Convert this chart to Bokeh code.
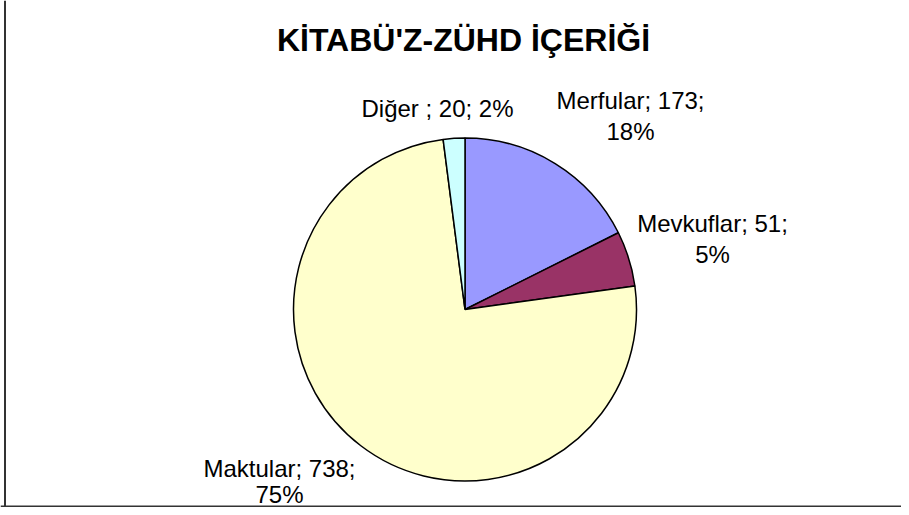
import math
from bokeh.plotting import figure
from bokeh.models import Range1d, Span, ColumnDataSource
from bokeh.core.properties import value
from bokeh.embed import file_html
from bokeh.resources import INLINE

# ---- data ----
title_text = "KİTABÜ'Z-ZÜHD İÇERİĞİ"
categories = ["Merfular", "Mevkuflar", "Maktular", "Diğer "]
values = [173, 51, 738, 20]
colors = ["#9999FF", "#993366", "#FFFFCC", "#CCFFFF"]

# ---- layout (picture pixel coordinates) ----
W, H = 901, 507
def sy(y):  # picture y -> data y
    return H - y

cx, cy, r = 464.5, 309, 171.5
# label anchor positions (x center, line 1 y, line 2 y)
label_pos = [(630, 100, 131), (712, 223, 254), (279, 468, 494), (437, 108, None)]

p = figure(width=W, height=H, output_backend="svg", toolbar_location=None,
           x_range=Range1d(0, W), y_range=Range1d(0, H),
           min_border=0, min_border_left=0, min_border_right=0,
           min_border_top=0, min_border_bottom=0)
p.axis.visible = False
p.grid.visible = False
p.outline_line_color = None
p.background_fill_color = "white"
p.border_fill_color = "white"

total = sum(values)
starts, ends = [], []
a = math.pi / 2
for v in values:
    starts.append(a)
    a -= v / total * 2 * math.pi
    ends.append(a)

src = ColumnDataSource(dict(start=starts, end=ends, color=colors,
                            x=[cx] * len(values), y=[sy(cy)] * len(values)))
p.wedge(x="x", y="y", radius=r, start_angle="start", end_angle="end",
        direction="clock", fill_color="color", line_color="black",
        line_width=1.5, source=src)

# title
p.text(x=[463], y=[sy(39)], text=[title_text], text_font=value("Liberation Sans"),
       text_font_size="32px", text_font_style="bold", text_align="center",
       text_baseline="alphabetic", text_color="black")

# labels
lx, ly, lt = [], [], []
for name, v, (x, y1, y2) in zip(categories, values, label_pos):
    pct = round(v / total * 100)
    if y2 is None:
        lx.append(x); ly.append(sy(y1)); lt.append(f"{name}; {v}; {pct}%")
    else:
        lx.append(x); ly.append(sy(y1)); lt.append(f"{name}; {v};")
        lx.append(x); ly.append(sy(y2)); lt.append(f"{pct}%")
p.text(x=lx, y=ly, text=lt, text_font=value("Liberation Sans"),
       text_font_size="24px", text_align="center", text_baseline="alphabetic",
       text_color="black")

# frame lines (left and bottom)
p.add_layout(Span(location=4.5, dimension="height", line_color="#333333", line_width=2))
p.add_layout(Span(location=sy(506), dimension="width", line_color="#333333", line_width=2))

open("out.html", "w").write(file_html(p, INLINE))
